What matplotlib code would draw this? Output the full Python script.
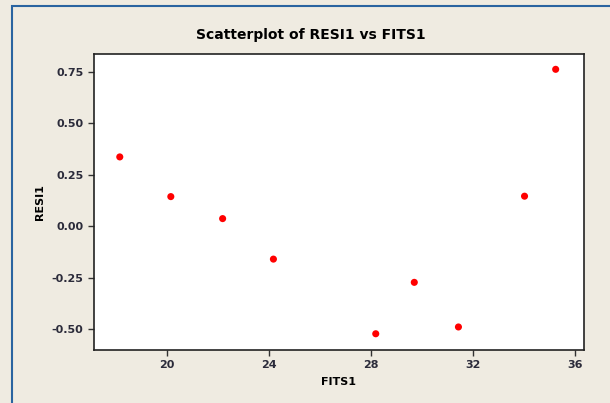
import numpy as np
import matplotlib.pyplot as plt
from matplotlib.patches import Rectangle

# fitted values and residuals
fits = [18.16, 20.16, 22.19, 24.18, 28.19, 29.70, 31.43, 34.02, 35.24]
resi = [0.337, 0.144, 0.037, -0.160, -0.523, -0.273, -0.490, 0.146, 0.763]

x_ticks = [20, 24, 28, 32, 36]
y_ticks = [-0.50, -0.25, 0.00, 0.25, 0.50, 0.75]

bg = '#efebe1'
tick_col = '#2b2b3a'

fig = plt.figure(figsize=(6.10, 4.03), dpi=100, facecolor=bg)

# blue window frame on the left and top
fig.patches.append(Rectangle((12.5 / 610, -0.1), 1.2, (403 - 5.5) / 403 + 0.1,
                             transform=fig.transFigure, fill=False,
                             edgecolor='#2a64a0', linewidth=1.5))

ax = fig.add_axes([94 / 610, 53 / 403, 490 / 610, 296 / 403])
ax.set_facecolor('white')
ax.scatter(fits, resi, s=26, color='#ff0000', edgecolors='none', zorder=3)

ax.set_xlim(17.15, 36.35)
ax.set_ylim(-0.602, 0.8375)
ax.set_xticks(x_ticks)
ax.set_yticks(y_ticks)
ax.set_yticklabels(['%.2f' % v for v in y_ticks])

for s in ax.spines.values():
    s.set_color('#222222')
    s.set_linewidth(1.2)
ax.tick_params(direction='out', length=4, width=1, color='#333333',
               labelsize=8, labelcolor=tick_col)
for lab in ax.get_xticklabels() + ax.get_yticklabels():
    lab.set_fontweight('semibold')

ax.set_xlabel('FITS1', fontsize=8, fontweight='bold', labelpad=5)
ax.set_ylabel('RESI1', fontsize=8, fontweight='bold', labelpad=5)

fig.text(311 / 610, (403 - 35) / 403, 'Scatterplot of RESI1 vs FITS1',
         ha='center', va='center', fontsize=10, fontweight='bold')

fig.savefig('out.png', dpi=100, facecolor=bg)
